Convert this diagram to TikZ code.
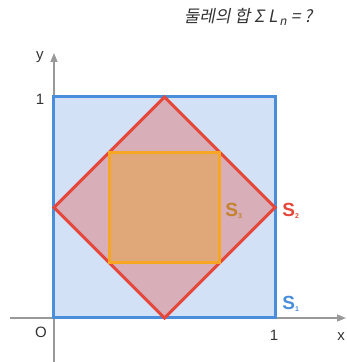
\documentclass[tikz,border=0pt]{standalone}
\usepackage{fontspec}
\setmainfont{Liberation Sans}
\newfontfamily\korfont[FakeSlant=0.2]{Noto Sans CJK KR}
\usetikzlibrary{arrows.meta, positioning, calc}
\definecolor{shapeblue}{HTML}{D3E1F6}
\definecolor{shapeblueborder}{HTML}{4A8EDB}
\definecolor{shapered}{HTML}{D8AEB8}
\definecolor{shaperedborder}{HTML}{E5473A}
\definecolor{shapeorange}{HTML}{E0A878}
\definecolor{shapeorangeborder}{HTML}{F5A623}
\definecolor{shapeorangetext}{HTML}{C4832E}
\definecolor{axisgray}{HTML}{999999}
\definecolor{textgray}{HTML}{333333}

\tikzset{
  axislabel/.style={text=textgray, font=\fontsize{15}{17}\selectfont, inner sep=0pt},
  shapelabel/.style={font=\fontsize{19}{21}\selectfont\bfseries, inner sep=0pt},
}

\begin{document}
\begin{tikzpicture}[x=221pt, y=221pt, >={Triangle[length=9pt, width=7pt]}]
      \useasboundingbox (-54pt,-44pt) rectangle (292pt,318pt);

      % axes
      \draw[->, axisgray, line width=1.5pt] (-44pt,0) -- (292pt,0);
      \draw[->, axisgray, line width=1.5pt] (0,-44pt) -- (0,265pt);

      % S1, S2, S3
      \filldraw[fill=shapeblue, draw=shapeblueborder, line width=3pt]
        (0,0) rectangle (1,1);
      \filldraw[fill=shapered, draw=shaperedborder, line width=3pt,
        line join=miter]
        (0.5,0) -- (1,0.5) -- (0.5,1) -- (0,0.5) -- cycle;
      \filldraw[fill=shapeorange, draw=shapeorangeborder, line width=3pt]
        (0.25,0.25) rectangle (0.75,0.75);

      \node[axislabel] (ylabel) at (-14pt,261pt) {y};
      \node[axislabel] (yone) at (-14pt,219pt) {1};
      \node[axislabel] (orig) at (-13pt,-14pt) {O};
      \node[axislabel] (xone) at (220pt,-17pt) {1};
      \node[axislabel] (xlabel) at (287pt,-19pt) {x};

      \node[shapelabel, text=shapeblueborder] (sone) at (237pt,14pt)
        {S\textsubscript{\fontsize{7}{8}\selectfont 1}};
      \node[shapelabel, text=shaperedborder] (stwo) at (237pt,107pt)
        {S\textsubscript{\fontsize{7}{8}\selectfont 2}};
      \node[shapelabel, text=shapeorangetext] (sthree) at (180pt,107pt)
        {S\textsubscript{\fontsize{7}{8}\selectfont 3}};

      \node[text=textgray, inner sep=0pt, font=\fontsize{17}{20}\selectfont]
        (title) at (194pt,301pt)
        {\korfont 둘레의 합 {\itshape Σ L\kern2pt\textsubscript{n} = ?}};
    \end{tikzpicture}
\end{document}
